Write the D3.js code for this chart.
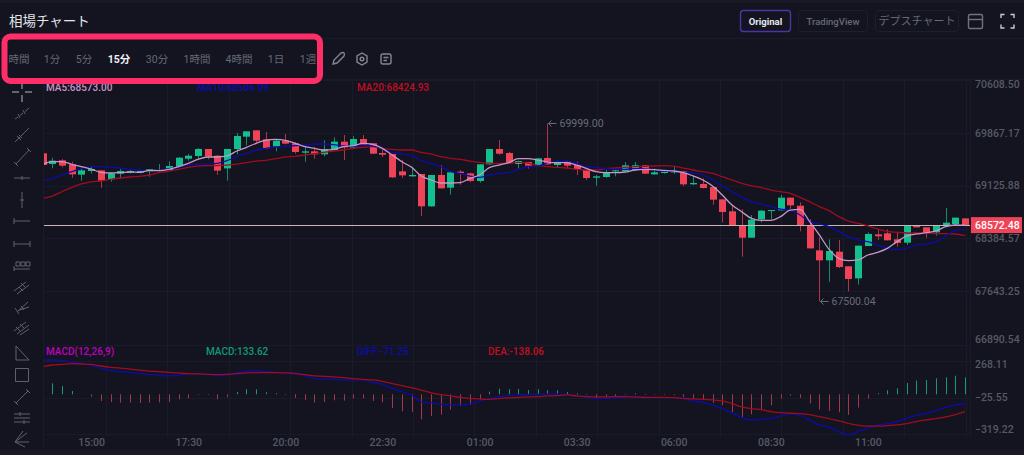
<!DOCTYPE html>
<html>
<head>
<meta charset="utf-8">
<script src="https://cdn.jsdelivr.net/npm/d3@7"></script>
<style>
  html, body { margin: 0; padding: 0; background: #131420; overflow: hidden; }
  text { font-family: Roboto, "Noto Sans CJK JP", sans-serif; }
</style>
</head>
<body>
<div id="chart"></div>
<script>
// candles, 15 min each, oldest first
var opens = [69580,69430,69482,69426,69281,69332,69341,69215,69295,69309,69309,69327,69332,69346,69393,69505,69543,69641,69547,69369,69641,69814,69903,69777,69674,69758,69721,69589,69608,69566,69627,69744,69664,69781,69721,69585,69571,69327,69257,69290,68836,69276,69098,69323,69299,69192,69426,69641,69585,69430,69458,69416,69515,69416,69468,69416,69346,69238,69248,69327,69332,69346,69412,69285,69304,69318,69327,69145,69150,69107,68934,68766,68574,68396,68653,68775,68780,68958,68845,68565,68218,68078,68199,67994,67825,68279,68443,68457,68373,68326,68569,68541,68471,68569,68588,68667];
var highs = [69580,69519,69500,69463,69384,69393,69341,69309,69360,69355,69346,69355,69430,69468,69529,69571,69655,69641,69557,69641,69866,69889,69903,69880,69777,69852,69739,69688,69664,69763,69805,69837,69823,69837,69725,69650,69571,69486,69393,69290,69276,69416,69323,69346,69309,69426,69641,69767,69603,69477,69458,69510,69999,69477,69477,69463,69355,69276,69346,69355,69458,69458,69416,69369,69337,69393,69332,69276,69229,69107,68934,68855,68794,68714,68784,68784,68995,68958,68892,68653,68401,68373,68363,67994,68284,68471,68513,68513,68480,68565,68569,68541,68565,68813,68677,68667];
var lows = [69416,69369,69384,69238,69196,69295,69098,69182,69224,69299,69299,69252,69327,69337,69384,69477,69496,69496,69276,69196,69566,69692,69734,69636,69608,69706,69575,69463,69505,69538,69618,69486,69650,69683,69571,69529,69234,69234,69252,68700,68831,69084,69000,69140,69173,69168,69416,69561,69435,69369,69365,69407,69416,69379,69365,69276,69206,69126,69238,69257,69327,69337,69290,69281,69295,69290,69121,69135,69089,68859,68607,68574,68129,68396,68611,68653,68775,68803,68485,68246,67500.04,67778,67970,67643,67736,68279,68363,68359,68270,68293,68541,68396,68424,68560,68560,68572.48];
var closes = [69416,69477,69407,69285,69341,69360,69196,69299,69332,69332,69332,69355,69346,69402,69519,69547,69641,69538,69337,69641,69823,69889,69758,69650,69758,69716,69599,69608,69566,69636,69744,69664,69781,69706,69575,69561,69243,69271,69276,68836,69276,69089,69313,69304,69192,69426,69641,69575,69440,69472,69407,69510,69426,69458,69407,69355,69234,69257,69318,69341,69412,69412,69295,69313,69323,69327,69145,69164,69093,68930,68756,68574,68396,68649,68775,68784,68958,68850,68574,68246,68078,68209,67984,67816,68284,68448,68415,68359,68321,68565,68541,68466,68565,68607,68677,68572.48];

var ma5 = [69426,69463,69463,69426,69393,69360,69313,69304,69309,69318,69313,69341,69337,69355,69393,69440,69496,69529,69529,69543,69613,69664,69721,69767,69777,69763,69721,69674,69650,69627,69636,69674,69688,69721,69706,69650,69557,69463,69384,69262,69206,69164,69164,69168,69229,69276,69379,69416,69449,69505,69505,69486,69458,69449,69449,69416,69369,69323,69309,69309,69318,69346,69355,69351,69341,69332,69309,69262,69206,69121,68995,68855,68761,68667,68639,68639,68691,68784,68794,68621,68434,68232,68106,68073,68083,68153,68190,68246,68340,68420,68448,68466,68490,68551,68574,68573];
var ma10 = [69192,69229,69276,69323,69369,69393,69398,69384,69374,69355,69346,69337,69341,69365,69384,69416,69426,69430,69440,69477,69533,69580,69627,69650,69669,69678,69688,69697,69711,69711,69702,69683,69678,69692,69683,69650,69594,69575,69547,69477,69440,69393,69327,69299,69262,69243,69276,69299,69309,69355,69393,69402,69449,69463,69472,69440,69393,69384,69365,69355,69355,69365,69365,69346,69332,69327,69313,69305,69276,69206,69121,69042,68962,68901,68869,68831,68798,68784,68714,68621,68588,68551,68480,68410,68363,68340,68293,68246,68228,68246,68293,68307,68340,68420,68494,68506];
var ma20 = [68948,68981,69042,69103,69150,69178,69192,69215,69234,69248,69257,69276,69309,69327,69355,69384,69402,69407,69407,69416,69430,69449,69472,69482,69505,69529,69538,69557,69575,69594,69613,69627,69650,69664,69674,69646,69636,69627,69627,69594,69571,69533,69510,69496,69472,69454,69444,69440,69444,69454,69444,69412,69393,69384,69374,69355,69346,69346,69365,69374,69384,69393,69398,69402,69407,69402,69374,69346,69323,69299,69252,69206,69159,69126,69098,69065,69042,69018,68962,68901,68831,68775,68691,68630,68597,68560,68518,68485,68471,68462,68462,68462,68452,68452,68448,68425];

var macdBars = [92,87,66,27,0,-19,-53,-61,-66,-66,-69,-66,-64,-61,-40,-32,-5,-5,-40,-24,19,40,40,16,8,-5,-29,-45,-66,-61,-48,-50,-34,-32,-53,-64,-109,-135,-140,-199,-172,-162,-122,-93,-82,-40,21,45,40,42,34,40,32,32,19,8,-5,-32,-24,-21,-5,8,-5,-5,-5,-8,-21,-37,-42,-69,-87,-143,-180,-159,-119,-87,-34,-11,-29,-72,-122,-133,-143,-164,-106,-34,8,32,48,90,109,114,127,135,148,133.62];
var diff = [273,273,270,257,246,231,207,193,180,175,164,159,151,146,154,162,164,156,146,154,172,183,191,180,175,172,170,148,127,119,119,114,114,114,93,80,45,21,-5,-61,-66,-80,-82,-82,-80,-53,-34,-19,-11,-5,-3,0,3,3,0,-13,-24,-32,-32,-29,-24,-19,-24,-27,-27,-27,-37,-53,-64,-87,-114,-148,-186,-204,-199,-193,-172,-156,-167,-204,-244,-262,-297,-323,-297,-270,-246,-233,-220,-191,-167,-151,-130,-103,-85,-71.25];
var dea = [220,233,238,244,241,238,225,215,209,201,193,185,180,175,170,164,162,159,156,159,164,170,172,172,172,170,164,156,146,143,138,132,125,119,114,103,85,69,53,34,13,-3,-13,-24,-32,-37,-40,-34,-29,-24,-21,-19,-13,-11,-5,-13,-19,-21,-21,-19,-19,-21,-24,-24,-24,-27,-32,-37,-40,-45,-53,-74,-101,-114,-122,-138,-146,-151,-154,-162,-178,-193,-212,-231,-246,-254,-254,-249,-244,-233,-217,-204,-193,-180,-162,-138.06];

var priceTicks = [70608.50, 69867.17, 69125.88, 68384.57, 67643.25, 66890.54];
var macdTicks = [268.11, -25.55, -319.22];
var timeIndex = [5, 15, 25, 35, 45, 55, 65, 75, 85];
var timeLabels = ['15:00', '17:30', '20:00', '22:30', '01:00', '03:30', '06:00', '08:30', '11:00'];
var lastPrice = 68572.48;
var highest = { index: 52, value: 69999 };
var lowest = { index: 80, value: 67500.04 };

var periods = ['時間', '1分', '5分', '15分', '30分', '1時間', '4時間', '1日', '1週'];
var periodX = [19, 52, 84, 119, 157, 197, 239, 276, 308];

var colors = {
  bg: '#131420', line: '#1a1b28', up: '#13c08d', down: '#ef4458', ma5: '#c797c9',
  ma10: '#0c0cab', ma20: '#a00c1e', axis: '#565965', marker: '#686b78'
};

function draw() {

  var svg = d3.select('#chart').append('svg')
    .attr('width', 1024)
    .attr('height', 455);

  svg.append('defs').append('clipPath')
      .attr('id', 'plot')
    .append('rect')
      .attr('x', 44)
      .attr('y', 78)
      .attr('width', 926)
      .attr('height', 360);

  var x = d3.scaleLinear().domain([0, 95]).range([42.6, 965]);
  var y = d3.scaleLinear().domain([67500.04, 69999]).range([301.5, 123.5]);
  var yMacd = d3.scaleLinear().domain([-25.55, 268.11]).range([397.5, 360.6]);

  // frame
  svg.append('rect').attr('width', 1024).attr('height', 3).attr('fill', '#191a26');
  svg.append('rect').attr('y', 450).attr('width', 1024).attr('height', 5).attr('fill', '#191a26');
  [38.5, 79.5].forEach(function (p) {
    svg.append('line').attr('x1', 0).attr('x2', 1024).attr('y1', p).attr('y2', p).attr('stroke', colors.line);
  });
  svg.append('line').attr('x1', 43.5).attr('x2', 43.5).attr('y1', 79).attr('y2', 450).attr('stroke', colors.line);
  svg.append('line').attr('x1', 970.5).attr('x2', 970.5).attr('y1', 79).attr('y2', 437).attr('stroke', colors.line);

  // grid
  var grid = svg.append('g').attr('stroke', colors.line);
  d3.range(0, 15).forEach(function (k) {
    var gx = Math.round(106 + k * 61.4) + 0.5;
    grid.append('line').attr('x1', gx).attr('x2', gx).attr('y1', 79).attr('y2', 437);
  });
  priceTicks.forEach(function (d) {
    var gy = Math.round(y(d)) + 0.5;
    grid.append('line').attr('x1', 44).attr('x2', 970).attr('y1', gy).attr('y2', gy);
  });
  macdTicks.forEach(function (d) {
    var gy = Math.round(yMacd(d)) + 0.5;
    grid.append('line').attr('x1', 44).attr('x2', 970).attr('y1', gy).attr('y2', gy);
  });

  var plot = svg.append('g').attr('clip-path', 'url(#plot)');

  // macd bars
  plot.selectAll('line.bar')
      .data(macdBars)
      .enter()
    .append('line')
      .attr('class', 'bar')
      .attr('x1', function (d, i) { return Math.round(x(i)) + 0.5; })
      .attr('x2', function (d, i) { return Math.round(x(i)) + 0.5; })
      .attr('y1', yMacd(0))
      .attr('y2', function (d) { return yMacd(d); })
      .attr('stroke', function (d) { return d >= 0 ? '#0f9b74' : '#a83648'; })
      .attr('stroke-width', 1);

  // candles
  var candles = plot.selectAll('g.candle')
      .data(opens)
      .enter()
    .append('g')
      .attr('class', 'candle')
      .attr('fill', function (d, i) { return closes[i] >= d ? colors.up : colors.down; })
      .attr('stroke', function (d, i) { return closes[i] >= d ? colors.up : colors.down; });

  candles.append('line')
      .attr('x1', function (d, i) { return Math.round(x(i)) + 0.5; })
      .attr('x2', function (d, i) { return Math.round(x(i)) + 0.5; })
      .attr('y1', function (d, i) { return y(highs[i]); })
      .attr('y2', function (d, i) { return y(lows[i]); })
      .attr('stroke-opacity', 0.7);

  candles.append('rect')
      .attr('x', function (d, i) { return Math.round(x(i)) - 3; })
      .attr('width', 7)
      .attr('y', function (d, i) { return y(Math.max(d, closes[i])); })
      .attr('height', function (d, i) { return Math.max(1, Math.abs(y(d) - y(closes[i]))); })
      .attr('stroke', 'none');

  var line = function (scale) {
    return d3.line()
      .x(function (d, i) { return x(i); })
      .y(function (d) { return scale(d); })
      .curve(d3.curveMonotoneX);
  };

  // price line sits under the averages
  var lastY = Math.round(y(lastPrice)) + 0.5;
  plot.append('line')
      .attr('x1', 44)
      .attr('x2', 970)
      .attr('y1', lastY)
      .attr('y2', lastY)
      .attr('stroke', '#c9b4b8')
      .attr('stroke-width', 1);

  [[ma20, colors.ma20, y], [ma10, colors.ma10, y], [ma5, colors.ma5, y], [diff, colors.ma10, yMacd], [dea, colors.ma20, yMacd]].forEach(function (s) {
    plot.append('path')
        .attr('d', line(s[2])(s[0]))
        .attr('fill', 'none')
        .attr('stroke', s[1])
        .attr('stroke-width', 1.3);
  });

  // high and low markers
  [highest, lowest].forEach(function (m) {
    var mx = Math.round(x(m.index)) + 0.5;
    var my = y(m.value);
    svg.append('path')
        .attr('d', 'M' + (mx + 9) + ',' + my + 'H' + (mx + 1) + 'm3,-3l-3,3l3,3')
        .attr('fill', 'none')
        .attr('stroke', colors.marker);
    svg.append('text')
        .attr('x', mx + 12)
        .attr('y', my + 3.5)
        .attr('font-size', 10.5)
        .attr('fill', colors.marker)
        .text(m.value.toFixed(2));
  });

  // axes
  var axisText = function (g) {
    g.select('.domain').remove();
    g.selectAll('.tick line').remove();
    g.selectAll('.tick text')
      .attr('font-size', 10.5)
      .attr('font-weight', 500)
      .attr('font-family', 'Roboto')
      .attr('fill', colors.axis);
  };

  var priceAxis = svg.append('g')
      .attr('transform', 'translate(975,0)')
      .call(d3.axisRight(y).tickValues(priceTicks).tickSize(0).tickPadding(0).tickFormat(d3.format('.2f')))
      .call(axisText);
  priceAxis.selectAll('.tick text')
      .attr('dy', function (d, i) { return i === 0 ? 7.5 : i === 5 ? -2.5 : 3.2; });

  var macdAxis = svg.append('g')
      .attr('transform', 'translate(975,0)')
      .call(d3.axisRight(yMacd).tickValues(macdTicks).tickSize(0).tickPadding(0).tickFormat(d3.format('.2f')))
      .call(axisText);
  macdAxis.selectAll('.tick text')
      .attr('dy', function (d, i) { return i === 0 ? 7 : i === 2 ? -2 : 3; });

  svg.append('g')
      .attr('transform', 'translate(0,437)')
      .call(d3.axisBottom(x).tickValues(timeIndex).tickSize(0).tickPadding(0)
        .tickFormat(function (d, i) { return timeLabels[i]; }))
      .call(axisText)
      .selectAll('.tick text').attr('dy', '0.5em').attr('y', 4);

  // last price tag
  svg.append('rect')
      .attr('x', 971)
      .attr('y', y(lastPrice) - 8)
      .attr('width', 51)
      .attr('height', 16)
      .attr('fill', colors.down);
  svg.append('text')
      .attr('x', 975)
      .attr('y', y(lastPrice) + 3.8)
      .attr('font-size', 10.5)
      .attr('font-weight', 500)
      .attr('fill', '#fff')
      .text(lastPrice.toFixed(2));

  // indicator labels
  var legend = [
    ['MA5:68573.00', 46, 91, colors.ma5], ['MA10:68506.09', 197, 91, colors.ma10], ['MA20:68424.93', 357, 91, '#c30d1f'],
    ['MACD(12,26,9)', 46, 355, '#bf00bf'], ['MACD:133.62', 206, 355, '#0f9b74'], ['DIFF:-71.25', 357, 355, colors.ma10], ['DEA:-138.06', 488, 355, '#c30d1f']
  ];
  legend.forEach(function (d) {
    svg.append('text')
        .attr('x', d[1])
        .attr('y', d[2])
        .attr('font-size', 10)
        .attr('font-weight', 500)
        .attr('fill', d[3])
        .text(d[0]);
  });

  drawHeader(svg);
  drawTools(svg);

  // highlight round the period picker
  svg.append('rect')
      .attr('x', 4.5)
      .attr('y', 36.5)
      .attr('width', 315.5)
      .attr('height', 44.5)
      .attr('rx', 6)
      .attr('fill', 'none')
      .attr('stroke', '#ff2e68')
      .attr('stroke-width', 6);
}

function drawHeader(svg) {

  svg.append('text')
      .attr('x', 9)
      .attr('y', 26)
      .attr('font-size', 13.5)
      .attr('fill', '#e4e5ea')
      .text('相場チャート');

  periods.forEach(function (d, i) {
    svg.append('text')
        .attr('x', periodX[i])
        .attr('y', 63)
        .attr('text-anchor', 'middle')
        .attr('font-size', 10.5)
        .attr('font-weight', d === '15分' ? 700 : 400)
        .attr('fill', d === '15分' ? '#f0f0f4' : '#666975')
        .text(d);
  });

  // pencil, settings, note
  var icons = svg.append('g').attr('fill', 'none').attr('stroke', '#83868f').attr('stroke-width', 1.4);
  icons.append('path').attr('d', 'M333,64l1,-4l7,-7q2,-1 3,0t0,3l-7,7z');
  icons.append('path').attr('d', 'M362,53l5,3v6l-5,3l-5,-3v-6z');
  icons.append('circle').attr('cx', 362).attr('cy', 59).attr('r', 1.8);
  icons.append('rect').attr('x', 381).attr('y', 54).attr('width', 10).attr('height', 10).attr('rx', 2);
  icons.append('path').attr('d', 'M383.5,57.5h5M383.5,60.5h3.5');

  var buttons = [
    ['Original', 740.5, 50, '#4a36a3', '#e8eaf2', 700],
    ['TradingView', 798.5, 69, '#1e1f2c', '#666975', 500],
    ['デプスチャート', 875.5, 83, '#1e1f2c', '#666975', 400]
  ];
  buttons.forEach(function (b) {
    svg.append('rect')
        .attr('x', b[1])
        .attr('y', 10.5)
        .attr('width', b[2])
        .attr('height', 21)
        .attr('rx', 3)
        .attr('fill', 'none')
        .attr('stroke', b[3])
        .attr('stroke-width', b[0] === 'Original' ? 1.4 : 1);
    svg.append('text')
        .attr('x', b[1] + b[2] / 2)
        .attr('y', 24.5)
        .attr('text-anchor', 'middle')
        .attr('font-size', b[0] === 'デプスチャート' ? 11 : 9.5)
        .attr('font-weight', b[5])
        .attr('fill', b[4])
        .text(b[0]);
  });

  var right = svg.append('g').attr('fill', 'none').attr('stroke', '#6f727e').attr('stroke-width', 1.4);
  right.append('rect').attr('x', 968.5).attr('y', 14.5).attr('width', 14).attr('height', 14).attr('rx', 1.5);
  right.append('path').attr('d', 'M968.5,19.5h14');
  right.append('path').attr('stroke', '#c8c9d0')
      .attr('d', 'M1001,18v-3.5h3.5M1010.5,14.5h3.5v3.5M1014,24.5v3.5h-3.5M1004.5,28h-3.5v-3.5');
}

function drawTools(svg) {

  // icon outlines, drawn round their own centre
  var tools = [
    [92, 'M-10,0H-3M3,0H10M0,-10V-3M0,3V10', '#b4b5bd'],
    [113, 'M-7,6L-4,4M-2,2.5L1,0M3,-1.5L7,-5M-4,1L-2,5M1,-3L3,1'],
    [135, 'M-7,7L7,-7M-5,1L-1,5M-3,0L0,3'],
    [157, 'M-6,7L7,-7M-8,5L-4,9M5,-9L9,-5'],
    [178, 'M-8,0H8M0,-2V2'],
    [200, 'M0,-8V8M-2,0H2'],
    [221, 'M-8,-3V3M-8,0H8'],
    [244, 'M-8,-3V3M8,-3V3M-8,0H8'],
    [265, 'M-8,4H8M-8,1V6M-6,-3H-2V1H-6ZM-1,-3H3V1H-1ZM4,-3H8V1H4Z'],
    [287, 'M-8,4L4,-5M-5,7L7,-2M-3,0L1,4M-1,-4L3,0'],
    [307, 'M-5,5L6,-5M-7,1L-3,7M-3,3L7,0M-1,-1L2,3'],
    [327, 'M-8,4L4,-5M-5,7L7,-2M-6,0L-2,4M-2,-3L2,1M-2,8L7,2'],
    [353, 'M-6,-7V7H7Z'],
    [375, 'M-6.5,-6.5H6.5V6.5H-6.5Z'],
    [397, 'M-6,6L6,-6M-8,4L-4,8M4,-8L8,-4'],
    [418, 'M-8,-4H8M-8,0H8M-8,4H8M-2,-6V-2M2,2V6'],
    [440, 'M-7,2H7M-7,2L5,-7M-7,2L1,-9M-7,2L3,7']
  ];

  var g = svg.append('g')
      .attr('transform', 'translate(22,0)')
      .attr('fill', 'none')
      .attr('stroke', '#5e616d')
      .attr('stroke-width', 1);

  tools.forEach(function (t) {
    g.append('path')
        .attr('transform', 'translate(0,' + t[0] + ')')
        .attr('stroke', t[2] || null)
        .attr('d', t[1]);
  });
}

draw();
</script>
</body>
</html>
